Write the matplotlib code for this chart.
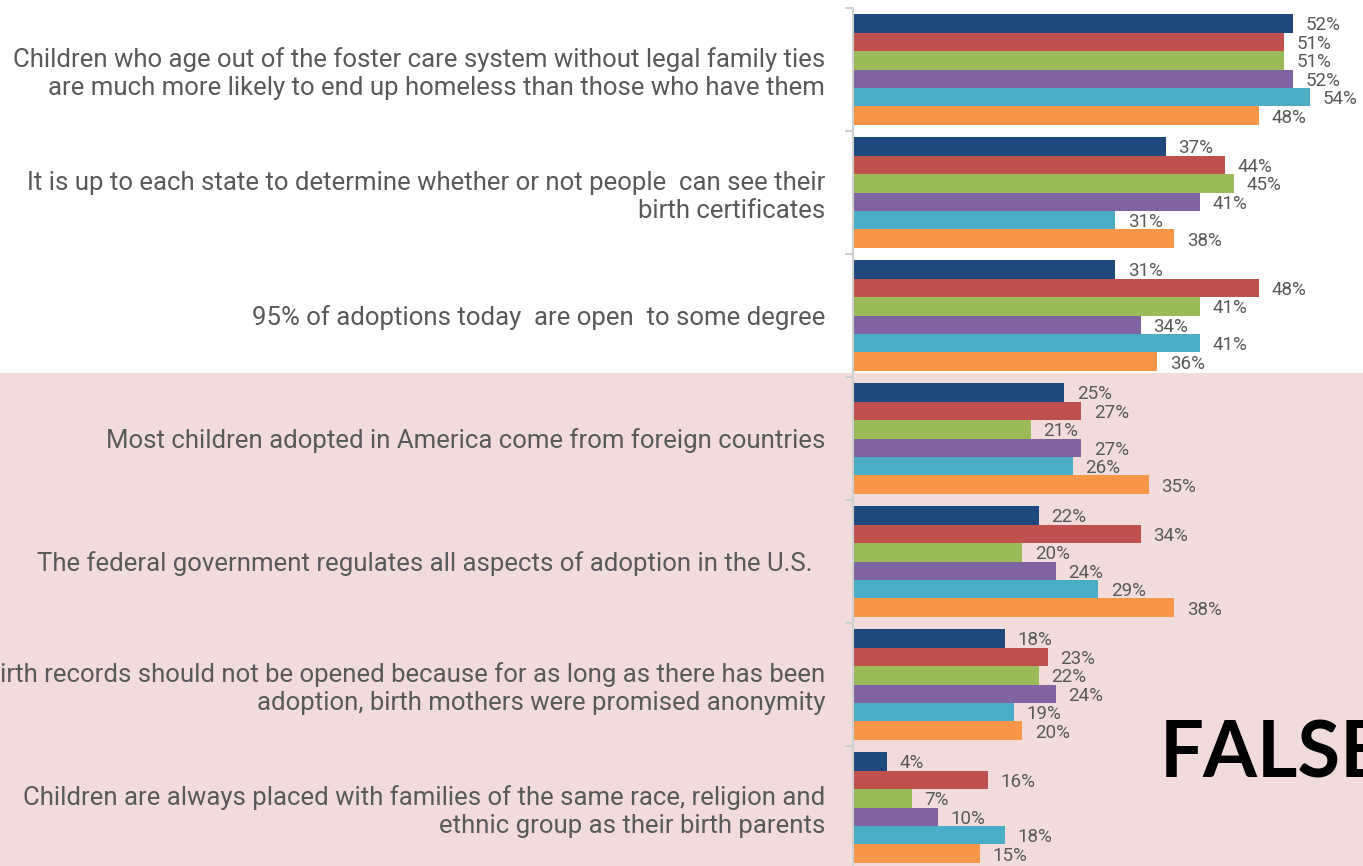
import matplotlib
matplotlib.use("Agg")
import matplotlib.pyplot as plt
from matplotlib.patches import Rectangle

categories = [
    "Children who age out of the foster care system without legal family ties\nare much more likely to end up homeless than those who have them",
    "It is up to each state to determine whether or not people  can see their\nbirth certificates",
    "95% of adoptions today  are open  to some degree",
    "Most children adopted in America come from foreign countries",
    "The federal government regulates all aspects of adoption in the U.S.  ",
    "Birth records should not be opened because for as long as there has been\nadoption, birth mothers were promised anonymity",
    "Children are always placed with families of the same race, religion and\nethnic group as their birth parents",
]
series1 = [52, 37, 31, 25, 22, 18, 4]
series2 = [51, 44, 48, 27, 34, 23, 16]
series3 = [51, 45, 41, 21, 20, 22, 7]
series4 = [52, 41, 34, 27, 24, 24, 10]
series5 = [54, 31, 41, 26, 29, 19, 18]
series6 = [48, 38, 36, 35, 38, 20, 15]
all_series = [series1, series2, series3, series4, series5, series6]
colors = ["#1f497d", "#c0504d", "#9bbb59", "#8064a2", "#4bacc6", "#f79646"]
big_label = "FALSE"

W, H = 1363, 866
fig = plt.figure(figsize=(W / 100, H / 100), dpi=100)
fig.patch.set_facecolor("white")
fig.patches.append(Rectangle((0, 0), 1, (H - 373) / H, transform=fig.transFigure,
                             facecolor="#f2dcdb", edgecolor="none", zorder=-5))

ax_left = 853 / W
ax_bottom = (H - 869) / H
ax_top = (H - 8) / H
ax = fig.add_axes([ax_left, ax_bottom, 1 - ax_left, ax_top - ax_bottom])
ax.set_zorder(2)
ax.set_facecolor("none")

bh = 0.15
n = len(categories)
for j, (vals, c) in enumerate(zip(all_series, colors)):
    ys = [i - 0.45 + bh / 2 + j * bh for i in range(n)]
    ax.barh(ys, vals, height=bh, color=c, edgecolor="none", zorder=2)
    for y, v in zip(ys, vals):
        ax.annotate(f"{v}%", (v, y), xytext=(9, -1.5), textcoords="offset points",
                    ha="left", va="center", fontsize=13.5, color="#595959",
                    family="Roboto")

ax.set_xlim(0, 60.3)
ax.set_ylim(n - 0.5, -0.5)
ax.set_xticks([])
ax.set_yticks([i - 0.5 for i in range(n + 1)])
ax.set_yticklabels([])
ax.set_yticks(list(range(n)), minor=True)
ax.set_yticklabels(categories, minor=True, fontsize=18.5, color="#595959", family="Roboto")
ax.tick_params(axis="y", which="major", length=6, width=1.5, color="#d0d0d0")
ax.tick_params(axis="y", which="minor", length=0, pad=20)
for lbl in ax.get_yticklabels(minor=True):
    lbl.set_ha("right")
    lbl.set_multialignment("right")
    lbl.set_linespacing(1.2)
for s in ["top", "right", "bottom"]:
    ax.spines[s].set_visible(False)
ax.spines["left"].set_color("#d0d0d0")
ax.spines["left"].set_linewidth(1.5)

fig.text(1160 / W, (H - 777) / H, big_label, fontsize=56, fontweight="bold",
         color="black", family="Lato", ha="left", va="baseline")

fig.savefig("out.png", dpi=100)
